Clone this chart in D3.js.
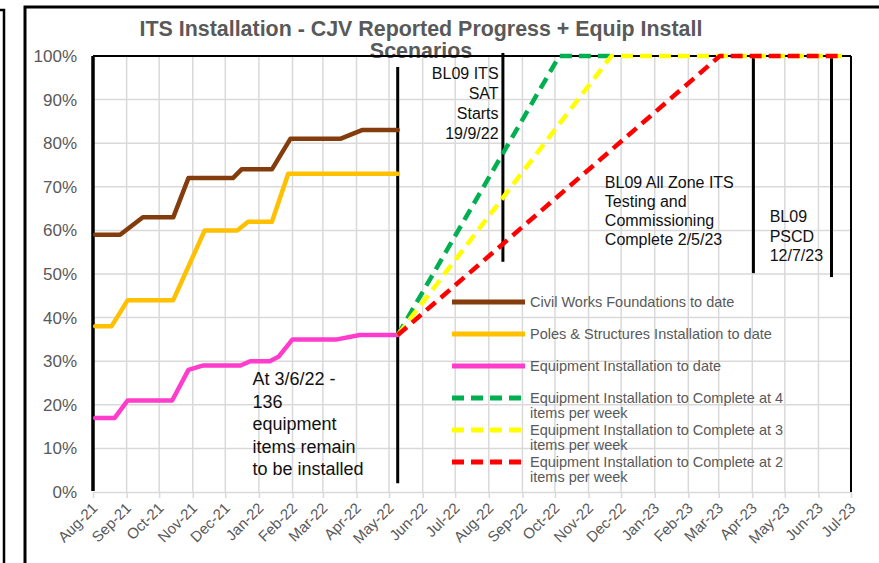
<!DOCTYPE html>
<html>
<head>
<meta charset="utf-8">
<script src="https://cdn.jsdelivr.net/npm/d3@7"></script>
<style>
  body { margin: 0; background: #fff; }
  svg { display: block; font-family: "Liberation Sans", Arial, sans-serif; }
</style>
</head>
<body>
<div id="chart"></div>
<script>
// ---- data ----
const civilWorks = [
  ["2021-08-03", 59], ["2021-08-26", 59], ["2021-09-16", 63], ["2021-10-14", 63],
  ["2021-10-28", 72], ["2021-12-08", 72], ["2021-12-16", 74], ["2022-01-13", 74],
  ["2022-01-30", 81], ["2022-03-17", 81], ["2022-04-06", 83], ["2022-05-09", 83]
];
const polesStructures = [
  ["2021-08-03", 38], ["2021-08-18", 38], ["2021-09-02", 44], ["2021-10-14", 44],
  ["2021-11-12", 60], ["2021-12-12", 60], ["2021-12-22", 62], ["2022-01-13", 62],
  ["2022-01-28", 73], ["2022-05-09", 73]
];
const equipment = [
  ["2021-08-03", 17], ["2021-08-21", 17], ["2021-09-02", 21], ["2021-10-13", 21],
  ["2021-10-28", 28], ["2021-11-10", 29], ["2021-12-15", 29], ["2021-12-24", 30],
  ["2022-01-11", 30], ["2022-01-19", 31], ["2022-02-01", 35], ["2022-03-14", 35],
  ["2022-04-04", 36], ["2022-05-09", 36]
];
const at4PerWeek = [["2022-05-09", 36], ["2022-10-05", 100], ["2022-11-21", 100]];
const at3PerWeek = [["2022-05-09", 36], ["2022-11-22", 100], ["2023-06-26", 100]];
const at2PerWeek = [["2022-05-09", 36], ["2023-03-02", 100], ["2023-06-22", 100]];

const seriesNames = [
  "Civil Works Foundations to date",
  "Poles & Structures Installation to date",
  "Equipment Installation to date",
  "Equipment Installation to Complete at 4|items  per week",
  "Equipment Installation to Complete at 3|items per week",
  "Equipment Installation to Complete at 2|items per week"
];
const seriesColors = ["#843c0c", "#ffc000", "#ff3ccc", "#00b050", "#ffff00", "#ff0000"];

// milestone lines: date, from %, to %
const milestones = [
  ["2022-05-09", 2, 97.5],
  ["2022-08-14", 52.8, 100.7],
  ["2023-04-02", 50.2, 99.5],
  ["2023-06-13", 49.3, 100]
];
// annotation text: date, % of first line, anchor, line step px, font size, lines
const notes = [
  ["2021-12-26", 25.9, "start", 22.5, 18, ["At 3/6/22 -", "136", "equipment", "items remain", "to be installed"]],
  ["2022-08-10", 96.1, "end", 20, 16, ["BL09 ITS", "SAT", "Starts", "19/9/22"]],
  ["2022-11-16", 70.9, "start", 18.8, 16, ["BL09 All Zone ITS", "Testing and", "Commissioning", "Complete 2/5/23"]],
  ["2023-04-17", 63.1, "start", 19.5, 16, ["BL09", "PSCD", "12/7/23"]]
];
const yTicks = [0, 10, 20, 30, 40, 50, 60, 70, 80, 90, 100];

// ---- drawing ----
const W = 879, H = 563;
const parse = d3.timeParse("%Y-%m-%d");
const svg = d3.select("#chart").append("svg").attr("width", W).attr("height", H);

const x = d3.scaleTime()
  .domain([new Date(2021, 7, 1), new Date(2023, 6, 1)])
  .range([93, 851]);
const y = d3.scaleLinear().domain([0, 100]).range([492, 56]);

// outer frames
svg.append("path").attr("d", "M0,10H4V563").attr("fill", "none").attr("stroke", "#000").attr("stroke-width", 2.5);
svg.append("path").attr("d", "M25,563V7H879").attr("fill", "none").attr("stroke", "#000").attr("stroke-width", 3);

// gridlines
const months = d3.timeMonth.range(new Date(2021, 7, 1), new Date(2023, 6, 2));
svg.append("g").selectAll("line").data(months.slice(1, -1)).join("line")
  .attr("x1", d => x(d)).attr("x2", d => x(d))
  .attr("y1", y(0)).attr("y2", y(100))
  .attr("stroke", "#d9d9d9").attr("stroke-width", 1.5);
svg.append("g").selectAll("line").data(yTicks.slice(1, -1)).join("line")
  .attr("x1", x.range()[0]).attr("x2", x.range()[1])
  .attr("y1", d => y(d)).attr("y2", d => y(d))
  .attr("stroke", "#d9d9d9").attr("stroke-width", 1.5);

// title (sits behind plot border like the original)
const title = svg.append("text").attr("text-anchor", "middle")
  .attr("font-size", 21.4).attr("font-weight", "bold").attr("fill", "#595959");
title.append("tspan").attr("x", 421).attr("y", 36).text("ITS Installation - CJV Reported Progress + Equip Install");
title.append("tspan").attr("x", 421).attr("y", 58).text("Scenarios");

// x axis
const xAxis = svg.append("g").attr("transform", `translate(0,${y(0)})`)
  .call(d3.axisBottom(x).tickValues(months).tickFormat(d3.timeFormat("%b-%y")).tickSize(6).tickSizeOuter(0));
xAxis.select(".domain").attr("stroke", "#d9d9d9").attr("stroke-width", 1.5);
xAxis.selectAll(".tick line").attr("stroke", "#d9d9d9").attr("stroke-width", 1.5);
xAxis.selectAll(".tick text")
  .attr("font-size", 15).attr("fill", "#595959")
  .attr("text-anchor", "end").attr("y", 0).attr("dy", 0)
  .attr("transform", "translate(5,17) rotate(-45)");

// y axis
const yAxis = svg.append("g").attr("transform", `translate(${x.range()[0]},0)`)
  .call(d3.axisLeft(y).tickValues(yTicks).tickFormat(d => d + "%").tickSize(0).tickPadding(16));
yAxis.select(".domain").remove();
yAxis.selectAll(".tick text").attr("font-size", 17).attr("fill", "#595959");

// plot border
svg.append("line").attr("x1", x.range()[0]).attr("x2", x.range()[1]).attr("y1", y(100)).attr("y2", y(100))
  .attr("stroke", "#000").attr("stroke-width", 2);
svg.append("line").attr("x1", x.range()[1]).attr("x2", x.range()[1]).attr("y1", y(100)).attr("y2", y(0))
  .attr("stroke", "#000").attr("stroke-width", 2);
svg.append("line").attr("x1", x.range()[0]).attr("x2", x.range()[0]).attr("y1", y(100)).attr("y2", y(0) - 1)
  .attr("stroke", "#000").attr("stroke-width", 3.5);

// milestone lines
svg.append("g").selectAll("line").data(milestones).join("line")
  .attr("x1", d => x(parse(d[0]))).attr("x2", d => x(parse(d[0])))
  .attr("y1", d => y(d[1])).attr("y2", d => y(d[2]))
  .attr("stroke", "#000").attr("stroke-width", 3);

// series lines
const line = d3.line().x(d => x(parse(d[0]))).y(d => y(d[1]));
const allSeries = [civilWorks, polesStructures, equipment, at4PerWeek, at3PerWeek, at2PerWeek];
allSeries.forEach((s, i) => {
  svg.append("path").datum(s)
    .attr("d", line)
    .attr("fill", "none")
    .attr("stroke", seriesColors[i])
    .attr("stroke-width", 4.5)
    .attr("stroke-linejoin", "round")
    .attr("stroke-linecap", i < 3 ? "round" : "butt")
    .attr("stroke-dasharray", i < 3 ? null : "12,7");
});

// annotations
notes.forEach(n => {
  const t = svg.append("text").attr("text-anchor", n[2]).attr("font-size", n[4]).attr("fill", "#111");
  n[5].forEach((s, k) => {
    t.append("tspan").attr("x", x(parse(n[0]))).attr("y", y(n[1]) + k * n[3]).attr("dy", "0.35em").text(s);
  });
});

// legend
const legend = svg.append("g").attr("transform", "translate(452,302)");
seriesNames.forEach((name, i) => {
  const g = legend.append("g").attr("transform", `translate(0,${i * 32})`);
  g.append("line").attr("x1", 0).attr("x2", 73).attr("y1", 0).attr("y2", 0)
    .attr("stroke", seriesColors[i]).attr("stroke-width", 5)
    .attr("stroke-dasharray", i < 3 ? null : "12,7");
  const t = g.append("text").attr("font-size", 14.5).attr("fill", "#595959");
  name.split("|").forEach((s, k) => {
    t.append("tspan").attr("x", 78).attr("y", k * 15).attr("dy", "0.35em").text(s);
  });
});
</script>
</body>
</html>
